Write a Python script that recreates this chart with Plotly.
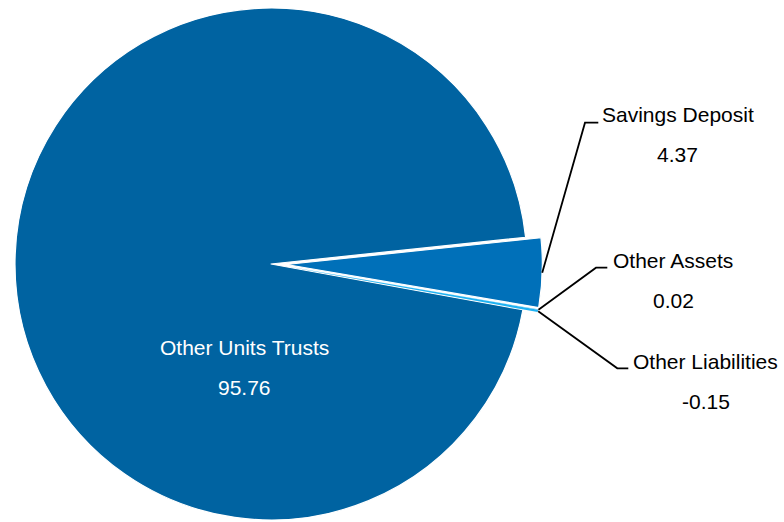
import math
import numpy as np
import plotly.graph_objects as go

# ---------------- data ----------------
labels = ["Savings Deposit", "Other Assets", "Other Liabilities", "Other Units Trusts"]
values = [4.37, 0.02, -0.15, 95.76]

# ---------------- style / layout ----------------
W, H = 784, 522
colors = ["#0070B9", "#5BC2F0", "#1FB2F2", "#0063A1"]
line_w = [1.2, 0.0, 0.0, 1.2]
pulls = [0.06, 0.06, 0.06, 0.0]
ROT = 84              # first slice starts here (deg clockwise from 12 o'clock)
R, CX, CY = 256.0, 271.0, 264.0   # pie radius & centre in pixels
FONT = "Arial, Liberation Sans, sans-serif"
FS = 21

# label placement (pixels)
name_pos = {"Savings Deposit": (678, 114.2), "Other Assets": (672.5, 260.8),
            "Other Liabilities": (705, 361.3), "Other Units Trusts": (244.5, 347.2)}
value_pos = {"Savings Deposit": (677.5, 154.2), "Other Assets": (673, 300.8),
             "Other Liabilities": (706, 401.2), "Other Units Trusts": (244.5, 387.5)}
elbows = {"Savings Deposit": [(585, 122.7), (598.3, 122.7)],
          "Other Assets": [(596, 267.7), (607.3, 267.7)],
          "Other Liabilities": [(617.3, 368.3), (628.3, 368.3)]}


def px(x):
    return x / W


def py(y):
    return 1 - y / H


draw_vals = np.abs(np.array(values, dtype=float))
total = draw_vals.sum()
cum = np.concatenate([[0], np.cumsum(draw_vals)[:-1]])
mid_angles = [ROT + (cum[i] + draw_vals[i] / 2) / total * 360 for i in range(len(values))]

fig = go.Figure()
# one trace per slice so each pulled slice keeps the full radius; big slice drawn first
for i in [3, 0, 2, 1]:
    a = math.radians(mid_angles[i])
    shift = pulls[i] * R
    dx, dy = shift * math.sin(a), -shift * math.cos(a)   # screen offset
    cx, cy = CX + dx, CY + dy
    dom_x = [max(0.0, px(cx - R)), min(1.0, px(cx + R))]
    dom_y = [max(0.0, py(cy + R)), min(1.0, py(cy - R))]
    fig.add_trace(go.Pie(
        labels=labels, values=draw_vals, sort=False, direction="clockwise",
        rotation=ROT,
        marker=dict(colors=[colors[j] if j == i else "rgba(0,0,0,0)" for j in range(len(labels))],
                    line=dict(color="white", width=[line_w[j] if j == i else 0 for j in range(len(labels))])),
        textinfo="none", hoverinfo="label+value", showlegend=False,
        domain=dict(x=dom_x, y=dom_y),
    ))

annotations = []
shapes = []
for i, lab in enumerate(labels):
    inside = lab == "Other Units Trusts"
    col = "white" if inside else "black"
    nx, ny = name_pos[lab]
    vx, vy = value_pos[lab]
    annotations.append(dict(x=px(nx), y=py(ny), xref="paper", yref="paper", text=lab,
                            showarrow=False, xanchor="center", yanchor="middle",
                            font=dict(family=FONT, size=FS, color=col)))
    annotations.append(dict(x=px(vx), y=py(vy), xref="paper", yref="paper", text=f"{values[i]:.2f}",
                            showarrow=False, xanchor="center", yanchor="middle",
                            font=dict(family=FONT, size=FS, color=col)))
    if lab in elbows:
        a = math.radians(mid_angles[i])
        rr = R * (1 + pulls[i])
        ax, ay = CX + rr * math.sin(a), CY - rr * math.cos(a)
        pts = [(ax, ay)] + elbows[lab]
        path = "M " + " L ".join(f"{px(x):.5f},{py(y):.5f}" for x, y in pts)
        shapes.append(dict(type="path", path=path, xref="paper", yref="paper",
                           line=dict(color="black", width=1.8)))

fig.update_layout(
    width=W, height=H, margin=dict(l=0, r=0, t=0, b=0),
    paper_bgcolor="white", plot_bgcolor="white",
    annotations=annotations, shapes=shapes,
)

fig.write_html(
    "out.html",
    config={"displayModeBar": False},
    post_script="document.body.style.margin='0';document.body.style.padding='0';"
                "document.body.style.overflow='hidden';",
)
